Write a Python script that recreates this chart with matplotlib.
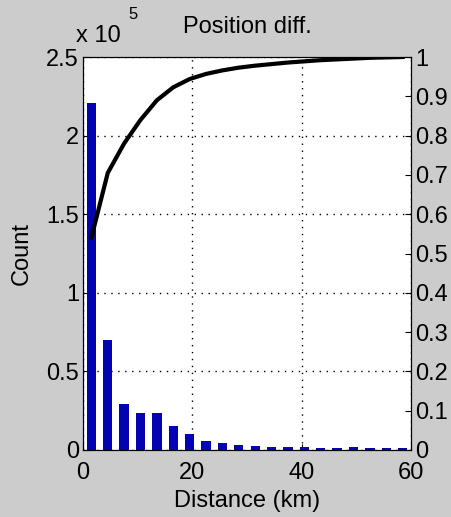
import numpy as np
import matplotlib.pyplot as plt

plt.rcParams['font.family'] = ['Liberation Sans', 'DejaVu Sans']

# histogram of position differences (bin centres in km, counts in units of 1e5)
bin_centres = [1.5, 4.5, 7.5, 10.5, 13.5, 16.5, 19.5, 22.5, 25.5, 28.5,
               31.5, 34.5, 37.5, 40.5, 43.5, 46.5, 49.5, 52.5, 55.5, 58.5]
counts = [2.21, 0.70, 0.29, 0.235, 0.235, 0.153, 0.10, 0.057, 0.042, 0.032,
          0.025, 0.020, 0.018, 0.016, 0.015, 0.015, 0.017, 0.014, 0.013, 0.012]
# cumulative fraction
cdf = [0.54, 0.705, 0.78, 0.84, 0.89, 0.923, 0.944, 0.957, 0.966, 0.973,
       0.978, 0.982, 0.986, 0.989, 0.992, 0.994, 0.996, 0.998, 0.999, 1.0]

bg = '#cccccc'
fs = 17

fig = plt.figure(figsize=(4.52, 5.17), dpi=100, facecolor=bg)
ax = fig.add_axes([0.184, 0.1296, 0.725, 0.7601])
ax.bar(bin_centres, counts, width=1.7, color='#0303b2', zorder=2)
ax.set_xlim(0, 60)
ax.set_ylim(0, 2.5)
ax.set_xticks([0, 20, 40, 60])
ax.set_yticks([0, 0.5, 1, 1.5, 2, 2.5])
ax.set_yticklabels(['0', '0.5', '1', '1.5', '2', '2.5'])
ax.grid(True, color='black', linestyle=(0, (1, 4)), linewidth=1.0)
ax.set_axisbelow(True)
ax.tick_params(direction='in', length=4, labelsize=fs, pad=3)
ax.tick_params(axis='x', pad=9)
ax.set_xlabel('Distance (km)', fontsize=fs, labelpad=4)
ax.set_ylabel('Count', fontsize=fs, labelpad=10)

ax2 = ax.twinx()
ax2.plot(bin_centres, cdf, color='black', linewidth=3, solid_joinstyle='round')
ax2.set_ylim(0, 1)
ax2.set_yticks(np.arange(0, 1.01, 0.1))
ax2.set_yticklabels(['0', '0.1', '0.2', '0.3', '0.4', '0.5', '0.6', '0.7', '0.8', '0.9', '1'])
ax2.tick_params(direction='in', length=4, labelsize=fs, pad=3)

for a in (ax, ax2):
    for s in a.spines.values():
        s.set_linewidth(0.8)

ax.set_title('Position diff.', fontsize=fs, pad=17)
fig.text(0.168, 0.91, 'x 10', fontsize=fs, ha='left', va='bottom')
fig.text(0.283, 0.958, '5', fontsize=12, ha='left', va='bottom')

fig.savefig('out.png', dpi=100, facecolor=bg)
